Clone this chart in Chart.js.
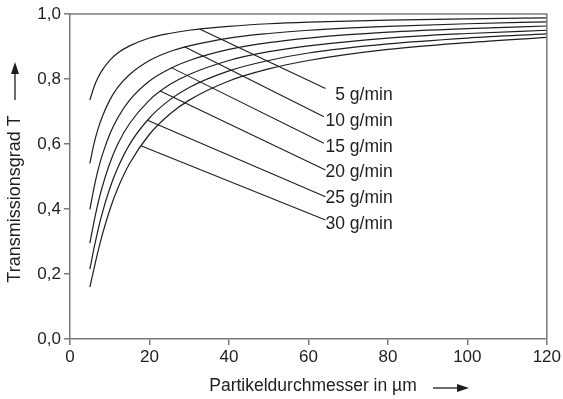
<!DOCTYPE html>
<html>
<head>
<meta charset="utf-8">
<script src="https://cdn.jsdelivr.net/npm/chart.js@4/dist/chart.umd.min.js"></script>
<style>
html,body{margin:0;padding:0;background:#fff;}
#wrap{width:563px;height:399px;position:relative;}
</style>
</head>
<body>
<div id="wrap"><canvas id="c" width="563" height="399"></canvas></div>
<script>
// ---- data ----
const diameters = [5, 6, 7, 8, 10, 12, 15, 20, 25, 30, 40, 50, 60, 80, 100, 120];
const t5  = [0.735,0.774,0.803,0.825,0.857,0.880,0.902,0.926,0.940,0.950,0.962,0.970,0.975,0.981,0.985,0.988];
const t10 = [0.540,0.599,0.644,0.680,0.735,0.774,0.814,0.857,0.884,0.902,0.926,0.940,0.950,0.962,0.970,0.976];
const t15 = [0.399,0.463,0.517,0.561,0.630,0.680,0.735,0.794,0.831,0.857,0.891,0.912,0.926,0.944,0.955,0.963];
const t20 = [0.295,0.358,0.415,0.463,0.540,0.599,0.663,0.735,0.782,0.814,0.857,0.884,0.902,0.926,0.940,0.950];
const t25 = [0.215,0.277,0.333,0.382,0.463,0.526,0.599,0.680,0.735,0.774,0.825,0.857,0.880,0.908,0.926,0.939];
const t30 = [0.160,0.214,0.267,0.315,0.397,0.463,0.540,0.630,0.691,0.735,0.794,0.831,0.857,0.891,0.912,0.928];
const seriesNames = ["5 g/min","10 g/min","15 g/min","20 g/min","25 g/min","30 g/min"];
// leader lines: point on curve -> point near label (data units)
const leaderCurveX = [32.6, 28.8, 25.5, 22.7, 19.5, 18.0];
const leaderCurveY = [0.954, 0.899, 0.835, 0.763, 0.673, 0.594];
const leaderEndX   = [64.3, 63.9, 63.9, 64.3, 64.3, 64.3];
const leaderEndY   = [0.771, 0.684, 0.602, 0.520, 0.438, 0.366];
// label anchor (right edge of text, vertical middle), data units
const labelX = [81.2, 81.2, 81.2, 81.2, 81.2, 81.2];
const labelY = [0.751, 0.671, 0.591, 0.514, 0.434, 0.354];
const xTitle = "Partikeldurchmesser in µm";
const yTitle = "Transmissionsgrad T";

const allSeries = [t5, t10, t15, t20, t25, t30];
const FONT = "'Liberation Sans', Arial, Helvetica, sans-serif";
const INK = '#1e1e1e';
const AXIS = '#7a7a7a';

const datasets = allSeries.map((s, i) => ({
  label: seriesNames[i],
  data: diameters.map((d, j) => ({x: d, y: s[j]})),
  borderColor: INK,
  borderWidth: 1.2,
  pointRadius: 0,
  fill: false,
  cubicInterpolationMode: 'monotone'
}));

const overlay = {
  id: 'overlay',
  afterDraw(chart) {
    const ctx = chart.ctx;
    const a = chart.chartArea;
    const xs = chart.scales.x, ys = chart.scales.y;
    ctx.save();
    // frame top/right
    ctx.strokeStyle = AXIS;
    ctx.lineWidth = 1.5;
    ctx.beginPath();
    ctx.moveTo(a.left, a.top);
    ctx.lineTo(a.right, a.top);
    ctx.lineTo(a.right, a.bottom);
    ctx.stroke();
    // leader lines
    ctx.strokeStyle = INK;
    ctx.lineWidth = 1.1;
    for (let i = 0; i < seriesNames.length; i++) {
      ctx.beginPath();
      ctx.moveTo(xs.getPixelForValue(leaderCurveX[i]), ys.getPixelForValue(leaderCurveY[i]));
      ctx.lineTo(xs.getPixelForValue(leaderEndX[i]), ys.getPixelForValue(leaderEndY[i]));
      ctx.stroke();
    }
    // labels
    ctx.fillStyle = INK;
    ctx.font = '17.5px ' + FONT;
    ctx.textAlign = 'right';
    ctx.textBaseline = 'middle';
    for (let i = 0; i < seriesNames.length; i++) {
      ctx.fillText(seriesNames[i], xs.getPixelForValue(labelX[i]), ys.getPixelForValue(labelY[i]));
    }
    // x title + arrow
    ctx.textAlign = 'center';
    ctx.textBaseline = 'middle';
    ctx.fillText(xTitle, 313, 386);
    ctx.strokeStyle = INK;
    ctx.lineWidth = 1.3;
    ctx.beginPath(); ctx.moveTo(433, 388); ctx.lineTo(460, 388); ctx.stroke();
    ctx.beginPath(); ctx.moveTo(469, 388); ctx.lineTo(457, 384); ctx.lineTo(457, 392); ctx.closePath(); ctx.fill();
    // y title + arrow
    ctx.save();
    ctx.font = '18px ' + FONT;
    ctx.translate(15, 199);
    ctx.rotate(-Math.PI / 2);
    ctx.fillText(yTitle, 0, 0);
    ctx.restore();
    ctx.beginPath(); ctx.moveTo(15, 100); ctx.lineTo(15, 71); ctx.stroke();
    ctx.beginPath(); ctx.moveTo(15, 62); ctx.lineTo(11, 74); ctx.lineTo(19, 74); ctx.closePath(); ctx.fill();
    ctx.restore();
  }
};

new Chart(document.getElementById('c'), {
  type: 'line',
  data: { datasets },
  options: {
    responsive: false,
    animation: false,
    devicePixelRatio: 1,
    layout: { padding: { top: 14, right: 14, left: 0, bottom: 0 } },
    plugins: { legend: { display: false }, tooltip: { enabled: false } },
    scales: {
      x: {
        type: 'linear', min: 0, max: 120,
        afterFit(s) { s.height = 60; },
        grid: { drawOnChartArea: false, drawTicks: true, tickLength: 6, color: AXIS, lineWidth: 1.5 },
        border: { display: true, color: AXIS, width: 1.5 },
        ticks: { stepSize: 20, padding: 2, color: INK, font: { size: 17, family: FONT }, maxRotation: 0 }
      },
      y: {
        type: 'linear', min: 0, max: 1,
        afterFit(s) { s.width = 70; },
        grid: { drawOnChartArea: false, drawTicks: true, tickLength: 6, color: AXIS, lineWidth: 1.5 },
        border: { display: true, color: AXIS, width: 1.5 },
        ticks: { stepSize: 0.2, padding: 3, color: INK, font: { size: 17, family: FONT },
          callback: v => v.toFixed(1).replace('.', ',') }
      }
    }
  },
  plugins: [overlay]
});
</script>
</body>
</html>
